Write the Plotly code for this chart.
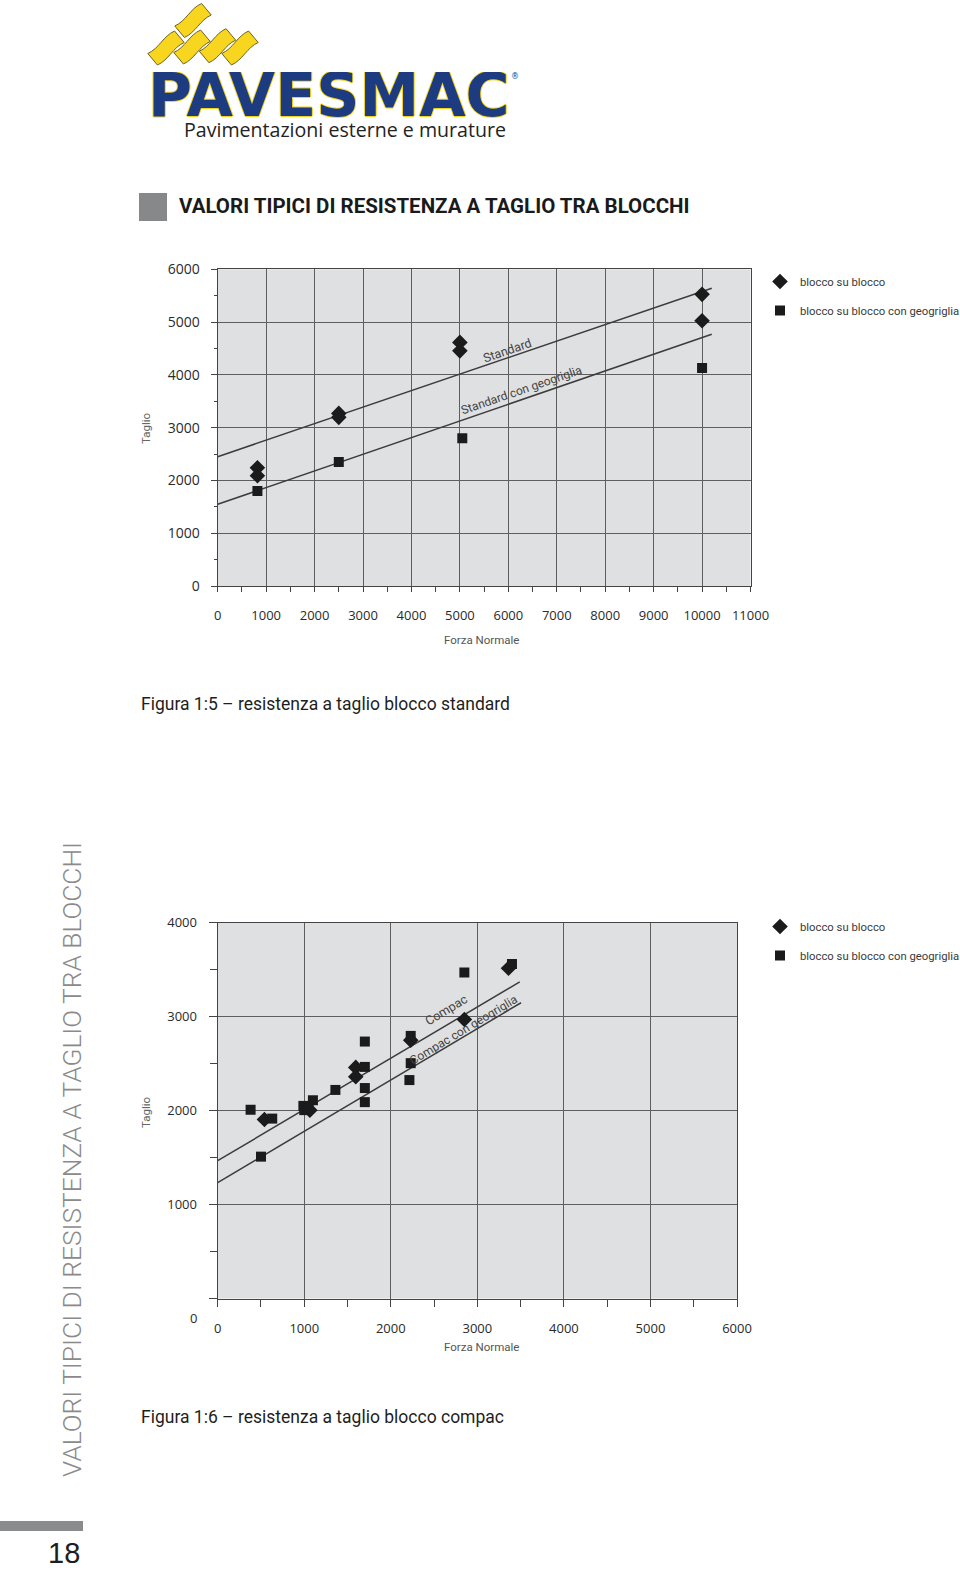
import math
import plotly.graph_objects as go

W, H = 960, 1570


def px(x):
    return x / W


def py(y):
    return 1 - y / H


COND = "Roboto, Liberation Sans, sans-serif"
HUM = "Open Sans, Noto Sans, sans-serif"

# ---------------- data : Figura 1:5 (blocco standard) ----------------
std_x_ticks = [0, 1000, 2000, 3000, 4000, 5000, 6000, 7000, 8000, 9000, 10000, 11000]
std_x_labels = ["0", "1000", "2000", "3000", "4000", "5000", "6000", "7000", "8000", "9000", "10000", "11000"]
std_y_ticks = [0, 1000, 2000, 3000, 4000, 5000, 6000]
std_y_labels = ["0", "1000", "2000", "3000", "4000", "5000", "6000"]

std_bb_x = [820, 820, 2500, 2500, 5000, 5000, 10000, 10000]
std_bb_y = [2240, 2090, 3270, 3195, 4615, 4455, 5525, 5025]
std_geo_x = [820, 2500, 5050, 10000]
std_geo_y = [1800, 2350, 2800, 4130]

std_line_x = [0, 10200]
std_line_y = [2450, 5640]
std_geo_line_x = [0, 10200]
std_geo_line_y = [1548, 4770]

# ---------------- data : Figura 1:6 (blocco compac) ----------------
cmp_x_ticks = [0, 1000, 2000, 3000, 4000, 5000, 6000]
cmp_x_labels = ["0", "1000", "2000", "3000", "4000", "5000", "6000"]
cmp_y_ticks = [0, 1000, 2000, 3000, 4000]
cmp_y_labels = ["", "1000", "2000", "3000", "4000"]

cmp_bb_x = [540, 1065, 1595, 1595, 2230, 2850, 3360]
cmp_bb_y = [1905, 2005, 2460, 2360, 2750, 2970, 3515]
cmp_geo_x = [380, 500, 630, 990, 1000, 1050, 1100, 1360, 1700, 1700, 1700, 1700,
             2230, 2230, 2215, 2850, 3400]
cmp_geo_y = [2010, 1510, 1915, 2050, 2005, 2025, 2110, 2220, 2735, 2465, 2240, 2090,
             2795, 2505, 2325, 3470, 3560]

cmp_line_x = [0, 3490]
cmp_line_y = [1467, 3370]
cmp_geo_line_x = [0, 3505]
cmp_geo_line_y = [1233, 3148]

series_names = ["blocco su blocco", "blocco su blocco con geogriglia"]

INK = "#1b1b1b"
LINE = "#3c3c3c"

fig = go.Figure()

# ---- top chart
fig.add_trace(go.Scatter(x=std_line_x, y=std_line_y, mode="lines", line=dict(color=LINE, width=1.5),
                         showlegend=False, hoverinfo="skip", xaxis="x", yaxis="y"))
fig.add_trace(go.Scatter(x=std_geo_line_x, y=std_geo_line_y, mode="lines", line=dict(color=LINE, width=1.5),
                         showlegend=False, hoverinfo="skip", xaxis="x", yaxis="y"))
fig.add_trace(go.Scatter(x=std_bb_x, y=std_bb_y, mode="markers", name=series_names[0],
                         marker=dict(symbol="diamond", size=12, color=INK), legendgroup="a",
                         xaxis="x", yaxis="y", legend="legend"))
fig.add_trace(go.Scatter(x=std_geo_x, y=std_geo_y, mode="markers", name=series_names[1],
                         marker=dict(symbol="square", size=10, color=INK), legendgroup="b",
                         xaxis="x", yaxis="y", legend="legend"))

# ---- bottom chart
fig.add_trace(go.Scatter(x=cmp_line_x, y=cmp_line_y, mode="lines", line=dict(color=LINE, width=1.5),
                         showlegend=False, hoverinfo="skip", xaxis="x2", yaxis="y2"))
fig.add_trace(go.Scatter(x=cmp_geo_line_x, y=cmp_geo_line_y, mode="lines", line=dict(color=LINE, width=1.5),
                         showlegend=False, hoverinfo="skip", xaxis="x2", yaxis="y2"))
fig.add_trace(go.Scatter(x=cmp_bb_x, y=cmp_bb_y, mode="markers", name=series_names[0],
                         marker=dict(symbol="diamond", size=12, color=INK), legendgroup="c",
                         xaxis="x2", yaxis="y2", legend="legend2"))
fig.add_trace(go.Scatter(x=cmp_geo_x, y=cmp_geo_y, mode="markers", name=series_names[1],
                         marker=dict(symbol="square", size=10, color=INK), legendgroup="d",
                         xaxis="x2", yaxis="y2", legend="legend2"))

GRID = "#5e5e5e"
AX = "#444444"


def axis_style(ticklen, minor_len, tickfont_size, standoff):
    return dict(
        showgrid=True, gridcolor=GRID, gridwidth=1.2,
        showline=True, linecolor=AX, linewidth=1.3, mirror=True,
        zeroline=False, ticks="outside", tickcolor=AX, tickwidth=1.2, ticklen=ticklen,
        tickfont=dict(family=HUM, size=tickfont_size, color="#2a2a2a"),
        ticklabelstandoff=standoff,
        minor=dict(tickmode="linear", tick0=0, dtick=500, ticks="outside", ticklen=minor_len,
                   tickcolor=AX, tickwidth=1.2, showgrid=False),
        fixedrange=True, automargin=False,
    )


xa1 = axis_style(5, 5, 13, 12)
xa1.update(domain=[px(217.7), px(750.5)], range=[0, 11000], anchor="y",
           tickmode="array", tickvals=std_x_ticks, ticktext=std_x_labels)
ya1 = axis_style(6, 3, 14, 8)
ya1.update(domain=[py(586), py(269.3)], range=[0, 6000], anchor="x",
           tickmode="array", tickvals=std_y_ticks, ticktext=std_y_labels)

xa2 = axis_style(7, 7, 13, 11)
xa2.update(domain=[px(217.7), px(737)], range=[0, 6000], anchor="y2",
           tickmode="array", tickvals=cmp_x_ticks, ticktext=cmp_x_labels)
ya2 = axis_style(8, 7, 13, 9)
ya2.update(domain=[py(1298.5), py(922.7)], range=[0, 4000], anchor="x2",
           tickmode="array", tickvals=cmp_y_ticks, ticktext=cmp_y_labels)

legend_common = dict(xanchor="left", yanchor="top", bgcolor="rgba(0,0,0,0)",
                     font=dict(family=COND, size=11.3, color="#3a3a3a"),
                     tracegroupgap=10, itemsizing="trace")

fig.update_layout(
    width=W, height=H, autosize=False,
    margin=dict(l=0, r=0, t=0, b=0, autoexpand=False),
    paper_bgcolor="white", plot_bgcolor="#dfe0e2",
    xaxis=xa1, yaxis=ya1, xaxis2=xa2, yaxis2=ya2,
    legend=dict(x=px(760), y=py(267), **legend_common),
    legend2=dict(x=px(760), y=py(912), **legend_common),
    showlegend=True,
)

ann = []


def text(x, y, s, size, color, family, xanchor="center", yanchor="middle", angle=0, **kw):
    d = dict(x=px(x), y=py(y), xref="paper", yref="paper", text=s, showarrow=False,
             xanchor=xanchor, yanchor=yanchor, textangle=angle,
             font=dict(size=size, color=color, family=family))
    d["font"].update(kw.pop("font_extra", {}))
    d.update(kw)
    ann.append(d)


# logo
text(146, 95, "PAVESMAC", 60, "#1d3b80", "DejaVu Sans", xanchor="left", height=46,
     font_extra=dict(weight="bold",
                     shadow="1px 0 0 #f3d21c, -1px 0 0 #f3d21c, 0 1px 0 #f3d21c, 0 -1px 0 #f3d21c"))
text(509, 77, "®", 8, "#1d3b80", "DejaVu Sans", xanchor="left")
text(182, 129, "Pavimentazioni esterne e murature", 19.6, "#232323", HUM, xanchor="left", height=20)

# page title
text(177, 206, "<b>VALORI TIPICI DI RESISTENZA A TAGLIO TRA BLOCCHI</b>", 20.5, "#1a1a1a", COND,
     xanchor="left")

# top chart texts
text(146, 428, "Taglio", 11.5, "#666666", COND, angle=-90)
text(481, 640, "Forza Normale", 11.5, "#555555", COND)
ann.append(dict(x=5967, y=4471, xref="x", yref="y", text="Standard", showarrow=False, textangle=-19,
                font=dict(family=COND, size=12.5, color="#444444")))
ann.append(dict(x=6279, y=3714, xref="x", yref="y", text="Standard con geogriglia", showarrow=False,
                textangle=-19, font=dict(family=COND, size=12, color="#444444")))
text(139, 704, "Figura 1:5 – resistenza a taglio blocco standard", 17.5, "#1e1e1e", COND, xanchor="left")

# bottom chart texts
text(146, 1112, "Taglio", 11.5, "#666666", COND, angle=-90)
text(481, 1347, "Forza Normale", 11.5, "#555555", COND)
ann.append(dict(x=px(199), y=0, xref="paper", yref="y2", text="0", showarrow=False,
                xanchor="right", yshift=-19, font=dict(family=HUM, size=13, color="#2a2a2a")))
ann.append(dict(x=2646, y=3071, xref="x2", yref="y2", text="Compac", showarrow=False, textangle=-31,
                font=dict(family=COND, size=12.5, color="#444444")))
ann.append(dict(x=2838, y=2858, xref="x2", yref="y2", text="Compac con geogriglia", showarrow=False,
                textangle=-31, font=dict(family=COND, size=12, color="#444444")))
text(139, 1417, "Figura 1:6 – resistenza a taglio blocco compac", 17.5, "#1e1e1e", COND, xanchor="left")

# side text and page number
text(72, 1160, "VALORI TIPICI DI RESISTENZA A TAGLIO TRA BLOCCHI", 26.3, "#8a8a8a", COND, angle=-90,
     font_extra=dict(weight=300))
text(82, 1553, "18", 29, "#1e1e1e", "Liberation Sans, Arial, sans-serif", xanchor="right", height=24)

fig.update_layout(annotations=ann)

shapes = []
shapes.append(dict(type="rect", xref="paper", yref="paper", x0=px(139), x1=px(167), y0=py(221), y1=py(193),
                   fillcolor="#87888a", line=dict(width=0)))
shapes.append(dict(type="rect", xref="paper", yref="paper", x0=px(0), x1=px(83), y0=py(1531), y1=py(1521),
                   fillcolor="#8a8b8d", line=dict(width=0)))


def brick(cx, cy, L=35, Wd=15, theta=40, a=3.5):
    t = math.radians(theta)
    u = (math.cos(t), -math.sin(t))
    v = (math.sin(t), math.cos(t))

    def P(su, sv):
        return (cx + su * u[0] + sv * v[0], cy + su * u[1] + sv * v[1])

    def f(p):
        return f"{px(p[0]):.5f},{py(p[1]):.5f}"

    p1 = P(-L / 2, -Wd / 2)
    c1 = P(-L / 6, -Wd / 2 + a)
    c2 = P(L / 6, -Wd / 2 - a)
    p2 = P(L / 2, -Wd / 2)
    p3 = P(L / 2, Wd / 2)
    c3 = P(L / 6, Wd / 2 - a)
    c4 = P(-L / 6, Wd / 2 + a)
    p4 = P(-L / 2, Wd / 2)
    path = f"M{f(p1)} C{f(c1)} {f(c2)} {f(p2)} L{f(p3)} C{f(c3)} {f(c4)} {f(p4)} Z"
    return dict(type="path", xref="paper", yref="paper", path=path,
                fillcolor="#f8d51e", line=dict(color="#6d6322", width=1))


for (bx, by) in [(193, 20.5), (166, 48), (192, 47), (217.5, 45.7), (240, 48)]:
    shapes.append(brick(bx, by))

fig.update_layout(shapes=shapes)

fig.write_html("out.html", config={"displayModeBar": False},
               post_script="document.body.style.margin='0px';document.body.style.overflow='hidden';")
